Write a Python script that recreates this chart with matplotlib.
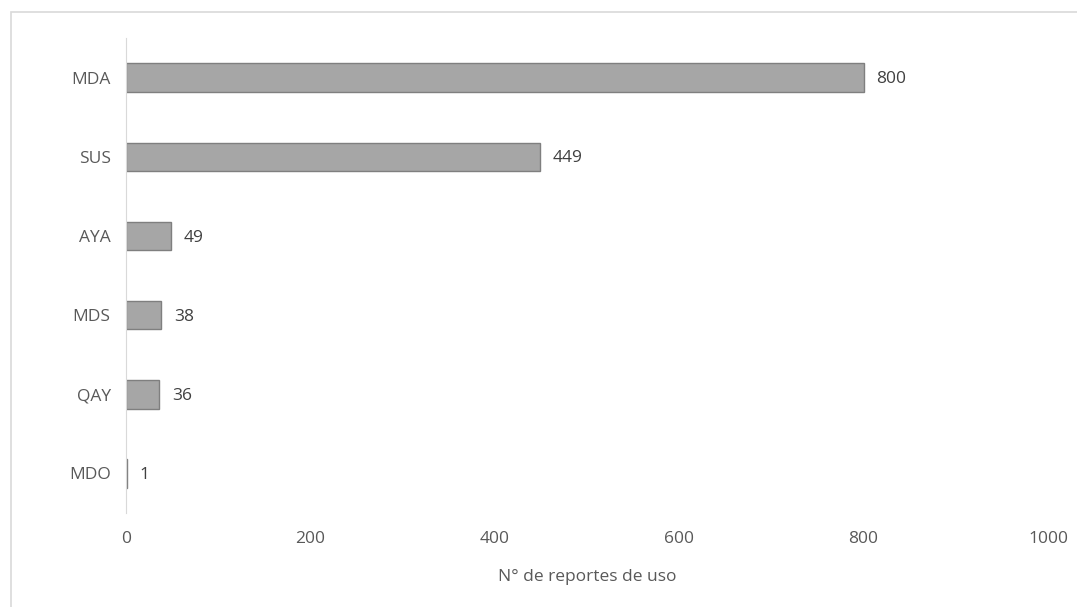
import matplotlib.pyplot as plt
from matplotlib.patches import Rectangle

categories = ['MDA', 'SUS', 'AYA', 'MDS', 'QAY', 'MDO']
values = [800, 449, 49, 38, 36, 1]
xticks = [0, 200, 400, 600, 800, 1000]

plt.rcParams['font.family'] = ['Open Sans', 'DejaVu Sans']
txt = '#595959'
fs = 12.5

fig = plt.figure(figsize=(10.77, 6.07), dpi=100)
fig.patches.append(Rectangle((11/1077, -0.05), 1.1, 1 - 12/607 + 0.05,
                             transform=fig.transFigure, fill=False,
                             edgecolor='#d9d9d9', linewidth=1.2))
ax = fig.add_axes([126/1077, 1 - 513/607, 922/1077, 475/607])

y = list(range(len(categories)))[::-1]
ax.barh(y, values, height=0.36, color='#a6a6a6', edgecolor='#7f7f7f', linewidth=1)
for yi, v in zip(y, values):
    ax.text(v + 14, yi - 0.02, str(v), va='center', ha='left', fontsize=fs, color='#404040')

ax.set_ylim(-0.5, len(categories) - 0.5)
ax.set_xlim(0, 1000)
ax.set_yticks(y)
ax.set_yticklabels(categories, fontsize=fs, color=txt)
ax.set_xticks(xticks)
ax.set_xticklabels([str(t) for t in xticks], fontsize=fs, color=txt)
ax.tick_params(axis='y', length=0, pad=11)
ax.tick_params(axis='x', length=0, pad=13)
for s in ['top', 'right', 'bottom']:
    ax.spines[s].set_visible(False)
ax.spines['left'].set_color('#d9d9d9')
ax.set_xlabel('N° de reportes de uso', fontsize=fs, color=txt, labelpad=16)

fig.savefig('out.png', dpi=100)
